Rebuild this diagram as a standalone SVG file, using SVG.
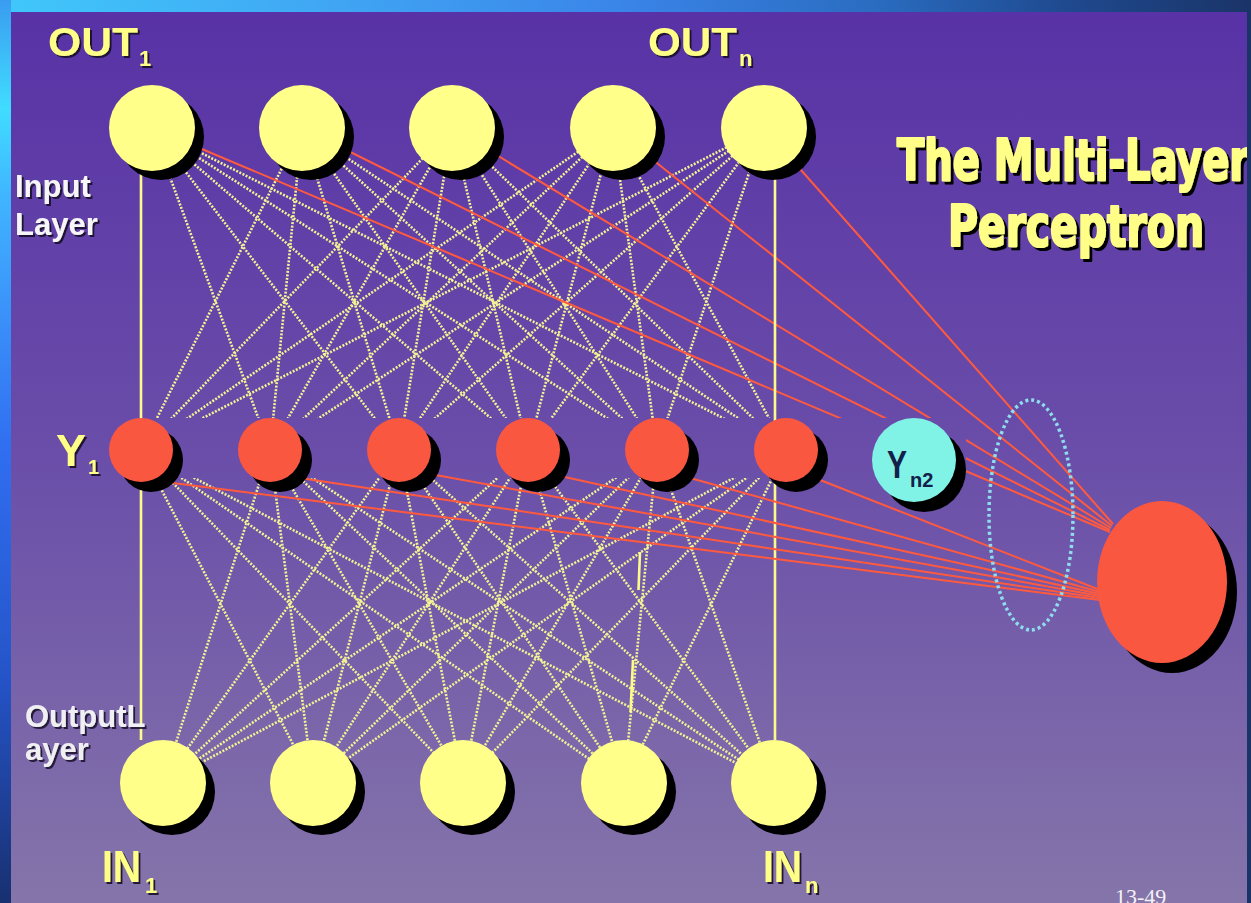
<svg xmlns="http://www.w3.org/2000/svg" width="1251" height="903" viewBox="0 0 1251 903">
  <defs>
    <linearGradient id="panelFill" gradientUnits="userSpaceOnUse" x1="0" y1="12" x2="0" y2="903">
      <stop offset="0" stop-color="#5832a6"/>
      <stop offset="0.5" stop-color="#6a4ea9"/>
      <stop offset="1" stop-color="#8575aa"/>
    </linearGradient>
    <linearGradient id="leftEdge" x1="0" y1="0" x2="0" y2="1">
      <stop offset="0" stop-color="#3a9cf0"/>
      <stop offset="0.12" stop-color="#40dcff"/>
      <stop offset="0.22" stop-color="#40b4ff"/>
      <stop offset="0.36" stop-color="#3a8ef8"/>
      <stop offset="0.5" stop-color="#306ef0"/>
      <stop offset="0.75" stop-color="#2554c8"/>
      <stop offset="1" stop-color="#183070"/>
    </linearGradient>
    <linearGradient id="topEdge" x1="0" y1="0" x2="1" y2="0">
      <stop offset="0" stop-color="#40c8fa"/>
      <stop offset="0.25" stop-color="#40a8f4"/>
      <stop offset="0.5" stop-color="#3a84e8"/>
      <stop offset="0.7" stop-color="#2a6cc0"/>
      <stop offset="0.85" stop-color="#1f4a90"/>
      <stop offset="1" stop-color="#1a3468"/>
    </linearGradient>
    <!-- the hidden-layer strip hides the links that pass behind it -->
    <mask id="bandMask" maskUnits="userSpaceOnUse" x="0" y="0" width="1251" height="903">
      <rect width="1251" height="903" fill="#fff"/>
      <rect x="100" y="418" width="866" height="60" fill="#000"/>
    </mask>
    <filter id="labelShadow" x="-20%" y="-20%" width="140%" height="140%">
      <feDropShadow dx="2" dy="2" stdDeviation="0.6" flood-color="#140c2c" flood-opacity="0.9"/>
    </filter>
    <filter id="titleShadow" x="-10%" y="-20%" width="120%" height="140%">
      <feDropShadow dx="3" dy="3" stdDeviation="0.4" flood-color="#000" flood-opacity="1"/>
    </filter>
  </defs>
  <style>
    .dot { stroke: #f3f394; stroke-width: 2.6; stroke-dasharray: 2 1.5; fill: none; }
    .solid { stroke: #fbfb8c; stroke-width: 2.6; fill: none; }
    .red { stroke: #ff5a3e; stroke-width: 2; fill: none; }
    .shadow { fill: #000; }
    .yel { fill: #ffff8a; }
    .hid { fill: #fa5741; }
    .lbl { font-family: "Liberation Sans", Arial, sans-serif; font-weight: bold; }
    .ylw { fill: #ffff88; filter: url(#labelShadow); }
    .wht { fill: #f6f6f8; filter: url(#labelShadow); }
    .title { font-family: "Liberation Sans Narrow", "DejaVu Sans Condensed", "Liberation Sans", sans-serif; font-weight: bold; font-size: 57px; fill: #ffff88; stroke: #ffff88; stroke-width: 2.2; stroke-linejoin: round; filter: url(#titleShadow); }
  </style>

  <!-- frame and panel -->
  <rect width="1251" height="903" fill="#1a3468"/>
  <rect x="0" y="0" width="1251" height="12" fill="url(#topEdge)"/>
  <rect x="0" y="0" width="11" height="903" fill="url(#leftEdge)"/>
  <rect x="11" y="12" width="1236" height="891" fill="url(#panelFill)"/>

  <g id="connectors">
    <g mask="url(#bandMask)">
      <!-- input row to hidden row -->
      <line class="dot" x1="152" y1="128" x2="270" y2="450"/>
      <line class="dot" x1="152" y1="128" x2="399" y2="450"/>
      <line class="dot" x1="152" y1="128" x2="528" y2="450"/>
      <line class="dot" x1="152" y1="128" x2="657" y2="450"/>
      <line class="dot" x1="152" y1="128" x2="786" y2="450"/>
      <line class="dot" x1="302" y1="128" x2="141" y2="450"/>
      <line class="dot" x1="302" y1="128" x2="270" y2="450"/>
      <line class="dot" x1="302" y1="128" x2="399" y2="450"/>
      <line class="dot" x1="302" y1="128" x2="528" y2="450"/>
      <line class="dot" x1="302" y1="128" x2="657" y2="450"/>
      <line class="dot" x1="302" y1="128" x2="786" y2="450"/>
      <line class="dot" x1="452" y1="128" x2="141" y2="450"/>
      <line class="dot" x1="452" y1="128" x2="270" y2="450"/>
      <line class="dot" x1="452" y1="128" x2="399" y2="450"/>
      <line class="dot" x1="452" y1="128" x2="528" y2="450"/>
      <line class="dot" x1="452" y1="128" x2="657" y2="450"/>
      <line class="dot" x1="452" y1="128" x2="786" y2="450"/>
      <line class="dot" x1="613" y1="128" x2="141" y2="450"/>
      <line class="dot" x1="613" y1="128" x2="270" y2="450"/>
      <line class="dot" x1="613" y1="128" x2="399" y2="450"/>
      <line class="dot" x1="613" y1="128" x2="528" y2="450"/>
      <line class="dot" x1="613" y1="128" x2="657" y2="450"/>
      <line class="dot" x1="613" y1="128" x2="786" y2="450"/>
      <line class="dot" x1="764" y1="128" x2="141" y2="450"/>
      <line class="dot" x1="764" y1="128" x2="270" y2="450"/>
      <line class="dot" x1="764" y1="128" x2="399" y2="450"/>
      <line class="dot" x1="764" y1="128" x2="528" y2="450"/>
      <line class="dot" x1="764" y1="128" x2="657" y2="450"/>
      <!-- hidden row to output row -->
      <line class="dot" x1="141" y1="450" x2="313" y2="783"/>
      <line class="dot" x1="141" y1="450" x2="463" y2="783"/>
      <line class="dot" x1="141" y1="450" x2="624" y2="783"/>
      <line class="dot" x1="141" y1="450" x2="774" y2="783"/>
      <line class="dot" x1="270" y1="450" x2="163" y2="783"/>
      <line class="dot" x1="270" y1="450" x2="313" y2="783"/>
      <line class="dot" x1="270" y1="450" x2="463" y2="783"/>
      <line class="dot" x1="270" y1="450" x2="624" y2="783"/>
      <line class="dot" x1="270" y1="450" x2="774" y2="783"/>
      <line class="dot" x1="399" y1="450" x2="163" y2="783"/>
      <line class="dot" x1="399" y1="450" x2="313" y2="783"/>
      <line class="dot" x1="399" y1="450" x2="463" y2="783"/>
      <line class="dot" x1="399" y1="450" x2="624" y2="783"/>
      <line class="dot" x1="399" y1="450" x2="774" y2="783"/>
      <line class="dot" x1="528" y1="450" x2="163" y2="783"/>
      <line class="dot" x1="528" y1="450" x2="313" y2="783"/>
      <line class="dot" x1="528" y1="450" x2="463" y2="783"/>
      <line class="dot" x1="528" y1="450" x2="624" y2="783"/>
      <line class="dot" x1="528" y1="450" x2="774" y2="783"/>
      <line class="dot" x1="657" y1="450" x2="163" y2="783"/>
      <line class="dot" x1="657" y1="450" x2="313" y2="783"/>
      <line class="dot" x1="657" y1="450" x2="463" y2="783"/>
      <line class="dot" x1="657" y1="450" x2="624" y2="783"/>
      <line class="dot" x1="657" y1="450" x2="774" y2="783"/>
      <line class="dot" x1="786" y1="450" x2="163" y2="783"/>
      <line class="dot" x1="786" y1="450" x2="313" y2="783"/>
      <line class="dot" x1="786" y1="450" x2="463" y2="783"/>
      <line class="dot" x1="786" y1="450" x2="624" y2="783"/>
      <!-- input row to the large unit -->
      <line class="red" x1="152" y1="128" x2="1110" y2="532"/>
      <line class="red" x1="302" y1="128" x2="1110" y2="530"/>
      <line class="red" x1="452" y1="128" x2="1111" y2="528"/>
      <line class="red" x1="613" y1="128" x2="1112" y2="526"/>
      <line class="red" x1="764" y1="128" x2="1113" y2="524"/>
    </g>
    <!-- straight side links -->
    <line class="solid" x1="141" y1="172" x2="141" y2="740"/>
    <line class="solid" x1="775" y1="172" x2="775" y2="740"/>
    <line class="solid" x1="640" y1="552" x2="638.5" y2="590"/>
    <line class="solid" x1="633" y1="660" x2="630.5" y2="712"/>
    <!-- hidden row to the large unit -->
    <line class="red" x1="173" y1="483" x2="1100" y2="600"/>
    <line class="red" x1="300" y1="478" x2="1100" y2="598"/>
    <line class="red" x1="430" y1="474" x2="1100" y2="596"/>
    <line class="red" x1="560" y1="476" x2="1100" y2="594"/>
    <line class="red" x1="690" y1="478" x2="1100" y2="592"/>
    <line class="red" x1="815" y1="478" x2="1100" y2="590"/>
  </g>

  <!-- dotted ring around the converging links -->
  <g id="link-ring">
    <ellipse cx="1031" cy="515" rx="42" ry="115" fill="none" stroke="#8fdcec" stroke-width="3.5" stroke-dasharray="3 3"/>
  </g>

  <!-- input row -->
  <g id="out-1"><circle class="shadow" cx="161" cy="137" r="43"/><circle class="yel" cx="152" cy="128" r="43"/></g>
  <g id="out-2"><circle class="shadow" cx="311" cy="137" r="43"/><circle class="yel" cx="302" cy="128" r="43"/></g>
  <g id="out-3"><circle class="shadow" cx="461" cy="137" r="43"/><circle class="yel" cx="452" cy="128" r="43"/></g>
  <g id="out-4"><circle class="shadow" cx="622" cy="137" r="43"/><circle class="yel" cx="613" cy="128" r="43"/></g>
  <g id="out-5"><circle class="shadow" cx="773" cy="137" r="43"/><circle class="yel" cx="764" cy="128" r="43"/></g>

  <!-- hidden row -->
  <g id="y-1"><circle class="shadow" cx="151" cy="460" r="32"/><circle class="hid" cx="141" cy="450" r="32"/></g>
  <g id="y-2"><circle class="shadow" cx="280" cy="460" r="32"/><circle class="hid" cx="270" cy="450" r="32"/></g>
  <g id="y-3"><circle class="shadow" cx="409" cy="460" r="32"/><circle class="hid" cx="399" cy="450" r="32"/></g>
  <g id="y-4"><circle class="shadow" cx="538" cy="460" r="32"/><circle class="hid" cx="528" cy="450" r="32"/></g>
  <g id="y-5"><circle class="shadow" cx="667" cy="460" r="32"/><circle class="hid" cx="657" cy="450" r="32"/></g>
  <g id="y-6"><circle class="shadow" cx="796" cy="460" r="32"/><circle class="hid" cx="786" cy="450" r="32"/></g>
  <g id="y-n2">
    <circle class="shadow" cx="924" cy="470" r="42"/>
    <circle cx="914" cy="460" r="42" fill="#80f2e6"/>
    <text class="lbl" x="887" y="478" font-size="38" font-weight="normal" fill="#12204a" textLength="20" lengthAdjust="spacingAndGlyphs">Y</text>
    <text class="lbl" x="910" y="487" font-size="20" fill="#12204a">n2</text>
  </g>

  <!-- large unit -->
  <g id="big-unit">
    <ellipse class="shadow" cx="1172" cy="592" rx="65" ry="81"/>
    <ellipse class="hid" cx="1162" cy="582" rx="65" ry="81"/>
  </g>

  <!-- output row -->
  <g id="in-1"><circle class="shadow" cx="172" cy="792" r="43"/><circle class="yel" cx="163" cy="783" r="43"/></g>
  <g id="in-2"><circle class="shadow" cx="322" cy="792" r="43"/><circle class="yel" cx="313" cy="783" r="43"/></g>
  <g id="in-3"><circle class="shadow" cx="472" cy="792" r="43"/><circle class="yel" cx="463" cy="783" r="43"/></g>
  <g id="in-4"><circle class="shadow" cx="633" cy="792" r="43"/><circle class="yel" cx="624" cy="783" r="43"/></g>
  <g id="in-5"><circle class="shadow" cx="783" cy="792" r="43"/><circle class="yel" cx="774" cy="783" r="43"/></g>

  <!-- labels -->
  <g id="labels" class="lbl">
    <text class="ylw" x="48" y="56" font-size="40" textLength="90" lengthAdjust="spacingAndGlyphs">OUT</text>
    <text class="ylw" x="139" y="66" font-size="22">1</text>
    <text class="ylw" x="648" y="56" font-size="40" textLength="89" lengthAdjust="spacingAndGlyphs">OUT</text>
    <text class="ylw" x="739" y="66" font-size="22">n</text>
    <text class="wht" x="15" y="197" font-size="31">Input</text>
    <text class="wht" x="15" y="235" font-size="31">Layer</text>
    <text class="ylw" x="56" y="466" font-size="44" textLength="30" lengthAdjust="spacingAndGlyphs">Y</text>
    <text class="ylw" x="88" y="474" font-size="20">1</text>
    <text class="wht" x="25" y="727" font-size="31" fill-opacity="0.95">OutputL</text>
    <text class="wht" x="25" y="760" font-size="31" fill-opacity="0.95">ayer</text>
    <text class="ylw" x="102" y="882" font-size="44" textLength="39" lengthAdjust="spacingAndGlyphs">IN</text>
    <text class="ylw" x="145" y="893" font-size="22">1</text>
    <text class="ylw" x="763" y="882" font-size="44" textLength="39" lengthAdjust="spacingAndGlyphs">IN</text>
    <text class="ylw" x="805" y="893" font-size="22">n</text>
  </g>

  <!-- title -->
  <g id="title">
    <text class="title" x="897" y="180" textLength="352" lengthAdjust="spacingAndGlyphs">The Multi-Layer</text>
    <text class="title" x="948" y="246" textLength="256" lengthAdjust="spacingAndGlyphs">Perceptron</text>
  </g>

  <!-- right frame edge drawn last so the title runs under it -->
  <rect x="1247" y="0" width="4" height="903" fill="#1a3468"/>

  <text x="1115" y="904" font-family="Liberation Serif, Times New Roman, serif" font-size="22" fill="#f2f2f4">13-49</text>
</svg>
